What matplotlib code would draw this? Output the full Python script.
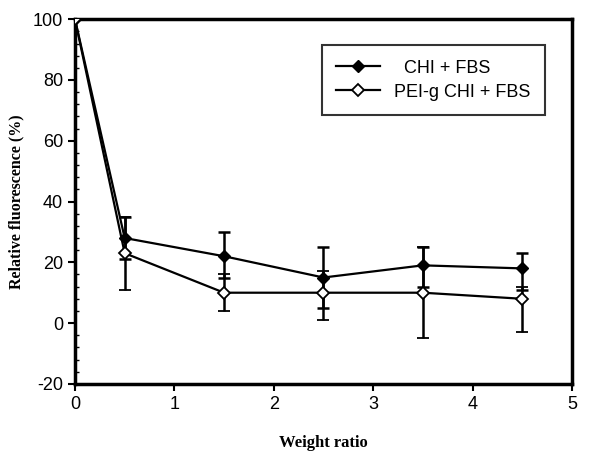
import matplotlib
matplotlib.use("Agg")
import matplotlib.pyplot as plt
from matplotlib.ticker import MultipleLocator
from matplotlib.lines import Line2D

plt.rcParams['axes.unicode_minus'] = False

# data
ratio = [0, 0.5, 1.5, 2.5, 3.5, 4.5]
chi = [100, 28, 22, 15, 19, 18]
chi_err_lo = [0, 7, 7, 10, 7, 7]
chi_err_hi = [0, 7, 8, 10, 6, 5]
pei = [100, 23, 10, 10, 10, 8]
pei_err_lo = [0, 12, 6, 9, 15, 11]
pei_err_hi = [0, 12, 6, 7, 15, 4]

fig = plt.figure(figsize=(5.97, 4.57), dpi=100)
ax = fig.add_axes([0.1256, 0.16, 0.8324, 0.798])

ax.errorbar(ratio, chi, yerr=[chi_err_lo, chi_err_hi], color='black', lw=1.6,
            marker='D', ms=6, mfc='black', mec='black', capsize=4, elinewidth=1.8,
            capthick=1.8, zorder=3)
ax.errorbar(ratio, pei, yerr=[pei_err_lo, pei_err_hi], color='black', lw=1.6,
            marker='D', ms=6.5, mfc='white', mec='black', mew=1.3, capsize=4,
            elinewidth=1.8, capthick=1.8, zorder=4)

ax.set_xlim(0, 5)
ax.set_ylim(-20, 100)
ax.xaxis.set_major_locator(MultipleLocator(1))
ax.yaxis.set_major_locator(MultipleLocator(20))
ax.yaxis.set_minor_locator(MultipleLocator(4))
ax.tick_params(axis='both', which='major', direction='out', length=5, width=1.5,
               labelsize=13, colors='black')
ax.tick_params(axis='y', which='minor', direction='in', length=3, width=1)
for lab in ax.get_xticklabels() + ax.get_yticklabels():
    lab.set_family('Liberation Sans')
for s in ax.spines.values():
    s.set_linewidth(2.5)

ax.set_xlabel('Weight ratio', family='Liberation Serif', fontweight='bold',
              fontsize=12, labelpad=16)
ax.set_ylabel('Relative fluorescence (%)', family='Liberation Serif',
              fontweight='bold', fontsize=11.5, labelpad=6)

handles = [
    Line2D([], [], color='black', lw=1.6, marker='D', ms=6, mfc='black'),
    Line2D([], [], color='black', lw=1.6, marker='D', ms=6.5, mfc='white', mew=1.3),
]
leg = ax.legend(handles, ['  CHI + FBS', 'PEI-g CHI + FBS'], loc='upper right',
                bbox_to_anchor=(0.946, 0.929), frameon=True, fancybox=False,
                edgecolor='black', prop={'family': 'Liberation Sans', 'size': 13},
                handlelength=2.4, borderpad=0.8, labelspacing=0.4,
                borderaxespad=0)
leg.get_frame().set_linewidth(1.5)

fig.savefig('out.png', dpi=100)
